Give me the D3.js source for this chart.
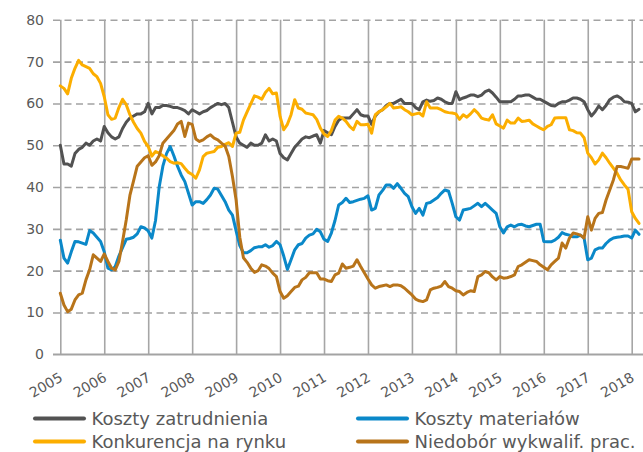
<!DOCTYPE html>
<html>
<head>
<meta charset="utf-8">
<script src="https://cdn.jsdelivr.net/npm/d3@7/dist/d3.min.js"></script>
<style>
  html, body { margin: 0; padding: 0; background: #ffffff; }
  svg { display: block; }
  text { font-family: "DejaVu Sans", Verdana, sans-serif; fill: #595959; }
</style>
</head>
<body>
<svg id="chart" width="643" height="452"></svg>
<script>
// ---- Data (monthly, Jan 2005 – Mar 2018) ----
const startYear = 2005;
const yearLabels = ["2005","2006","2007","2008","2009","2010","2011","2012","2013","2014","2015","2016","2017","2018"];
const yTicks = [0, 10, 20, 30, 40, 50, 60, 70, 80];
const seriesNames = ["Koszty zatrudnienia", "Koszty materiałów", "Konkurencja na rynku", "Niedobór wykwalif. prac."];

const kosztyZatrudnienia = [
  50, 45.5, 45.5, 45, 48, 49, 49.5, 50.5, 50, 51, 51.5, 51,
  54.5, 53, 52, 51.5, 52, 54, 55.5, 56.5, 57, 57.5, 57.5, 58,
  60, 57.5, 59, 59, 59.5, 59.5, 59.3, 59, 59, 58.7, 58.3, 57.5,
  58.5, 58, 57.5, 58, 58.3, 59, 59.5, 60, 59.7, 60, 59, 55.5,
  52, 50.5, 50, 49.5, 50.5, 50, 50, 50.5, 52.5, 51, 51.5, 51,
  48, 47, 46.5, 48, 49.5, 50.5, 51.5, 52, 51.8, 52.2, 52.5, 50.5,
  53.5, 53, 52.5, 54.5, 56, 56.5, 56.5, 56.5, 57.5, 58.5, 57.3, 57,
  57, 55, 57, 58, 58.5, 59.5, 60, 60, 60.5, 61, 60, 60,
  60, 59, 58.5, 60.4, 60.8, 60.5, 60.7, 61.3, 61, 60.4, 60, 60,
  62.8, 60.9, 61.3, 61.6, 62, 62, 61.6, 62, 62.8, 63.2, 62.5, 61.5,
  60.4, 60.4, 60.4, 60.4, 61, 61.8, 61.8, 62, 62, 61.5, 61, 61,
  60.5, 60, 59.5, 59.4, 60, 60.4, 60.4, 60.8, 61.3, 61.3, 61, 60.4,
  58.5, 57, 58, 59.4, 58.5, 59.5, 60.9, 61.5, 61.8, 61.3, 60.4, 60.3,
  60, 58, 58.6
];
const kosztyMaterialow = [
  27.3, 23, 21.8, 24.5, 27, 26.9, 26.6, 26.3, 29.6, 29, 28, 27,
  24.5, 20.6, 20.2, 21, 23.5, 25.5, 27.5, 27.7, 28, 28.8, 30.5, 30.2,
  29.5, 27.8, 32, 40, 45, 48, 49.7, 47.5, 45, 42.9, 41.3, 38.5,
  35.7, 36.5, 36.5, 36.1, 37, 38.1, 39.7, 39.5, 38, 36.5, 34.5, 33.3,
  29.5, 26, 24.3, 24.3, 24.8, 25.5, 25.7, 25.7, 26.2, 25.6, 26, 27,
  26.2, 23.5, 20.3, 22.6, 25, 26.2, 26.5, 27.8, 28.5, 28.8, 29.9, 29.3,
  27.5, 27, 29, 32, 35.7, 36.3, 37.3, 36.3, 36.5, 36.8, 37.1, 37.3,
  37.9, 34.5, 34.9, 38.1, 39.2, 40.5, 40.5, 39.7, 40.8, 39.7, 38.5, 37.7,
  35.3, 33.7, 34.9, 33.3, 36.1, 36.3, 36.9, 37.5, 38.5, 39.3, 39, 36.1,
  32.9, 32.1, 34.5, 34.7, 34.9, 35.5, 36.1, 35.3, 36.1, 35.3, 34.5, 33.7,
  30.5, 29, 30.5, 30.9, 30.5, 31, 31.1, 30.7, 30.5, 30.8, 31.1, 31.1,
  27, 26.9, 26.9, 27.3, 28, 29.1, 28.7, 28.5, 28.1, 28.1, 28.5, 27.8,
  22.6, 23, 25, 25.4, 25.4, 26.5, 27.3, 27.8, 28, 28.1, 28.3, 28.3,
  27.8, 29.7, 28.7
];
const konkurencjaNaRynku = [
  64.2, 63.6, 62.3, 66, 68.4, 70.3, 69.2, 68.8, 68.4, 67.1, 66.4, 64.8,
  61.6, 57.3, 56.2, 56.5, 59, 61, 59.7, 57.3, 55.5, 54, 52.9, 50.9,
  49.7, 47.4, 48.5, 48.1, 47.5, 46.9, 46.1, 45.7, 45.8, 45.6, 44.5, 43.5,
  43, 42.1, 44.1, 47.3, 48.1, 48.3, 48.5, 49.5, 49.7, 50.2, 50.6, 49.7,
  52.9, 53.1, 56, 58, 59.9, 61.8, 61.5, 61, 62.6, 63.6, 62.3, 62.5,
  56.9, 53.7, 55, 57.3, 60.9, 58.9, 58.6, 57.7, 57.5, 57.3, 56.2, 54.1,
  52.7, 52.1, 53.5, 56, 56.9, 56.5, 55.7, 54.5, 53.7, 55.7, 54.9, 54.9,
  55, 52.9, 57.3, 58, 58.5, 59.2, 60, 58.9, 59, 59.2, 58.5, 58,
  57.3, 57.5, 57.7, 57, 60.4, 58.9, 58.9, 58.9, 58.5, 58, 57.8, 57.7,
  57.5, 56.2, 57.3, 56.7, 57.5, 58.5, 57.7, 56.5, 56.2, 56, 57.3, 55.1,
  54.6, 54.1, 56, 55.3, 55.3, 56.5, 55.7, 55.8, 56, 55.1, 54.6, 54.1,
  53.7, 54.5, 54.9, 56.5, 56.6, 56.6, 56.6, 53.7, 53.5, 53, 52.9, 51.8,
  48.1, 47, 45.5, 46.5, 48.1, 47, 45.7, 44.5, 43.3, 41.7, 40.5, 39.5,
  34.1, 32.5, 31.3
];
const niedoborPracownikow = [
  14.6, 11.8, 10.2, 10.8, 13, 14.2, 14.6, 17.8, 20.2, 23.8, 23, 22.2,
  24, 22.2, 20.6, 20.2, 22.2, 27, 32.1, 38, 41.5, 45, 46, 47,
  47.5, 45.2, 46, 47.5, 50.5, 51.5, 52.5, 53.5, 55.1, 55.7, 52.1, 55.3,
  55, 51.5, 50.9, 51.3, 52, 52.5, 51.7, 51.3, 50.5, 49.8, 47.3, 42.5,
  36.9, 28, 23.1, 22, 20.6, 19.6, 20, 21.4, 21.1, 20.5, 19.4, 18.6,
  15, 13.4, 14, 15, 16, 16.3, 17.8, 18.4, 19.5, 19.5, 19.5, 18,
  18, 17.6, 17.4, 19, 19.4, 21.6, 20.6, 20.8, 21.1, 22.6, 21, 19.5,
  18, 16.6, 15.8, 16.2, 16.4, 16.6, 16.2, 16.6, 16.6, 16.4, 15.8, 15,
  14.2, 13.2, 12.8, 12.6, 13, 15.4, 15.8, 16, 16.3, 17.4, 16.2, 15.8,
  15.2, 15, 14.2, 14.8, 15.2, 15, 18.6, 19, 19.8, 19.5, 18.5, 17.8,
  18.6, 18.2, 18.3, 18.6, 19, 21, 21.4, 22, 22.6, 22.4, 22.2, 21.4,
  20.8, 20.2, 21.4, 22.2, 23, 26.6, 25.4, 27.8, 29, 28.8, 28.5, 27.8,
  32.9, 29.7, 32.5, 33.7, 33.9, 36.9, 39.3, 41.7, 44.9, 44.9, 44.7, 44.5,
  46.7, 46.7, 46.7
];

const seriesValues = [kosztyZatrudnienia, kosztyMaterialow, konkurencjaNaRynku, niedoborPracownikow];
const seriesColors = ["#525252", "#0a88c9", "#fcae00", "#b8741a"];

// ---- Layout ----
const W = 643, H = 452;
const svg = d3.select("#chart");
svg.append("rect").attr("width", W).attr("height", H).attr("fill", "#fff");

const x = d3.scaleLinear().domain([2005, 2018]).range([60.3, 631.7]);
const y = d3.scaleLinear().domain([0, 80]).range([354.3, 19.8]);
const gridLeft = 53;

// Horizontal gridlines + y labels
const yAxis = svg.append("g")
  .attr("transform", `translate(${gridLeft},0)`)
  .call(d3.axisLeft(y).tickValues(yTicks).tickSize(-(W - gridLeft)).tickPadding(9).tickFormat(d3.format("d")));
yAxis.select(".domain").remove();
yAxis.selectAll(".tick line")
  .attr("stroke", "#a3a3a3")
  .attr("stroke-width", 1.6)
  .attr("stroke-dasharray", d => d === 0 ? null : "7,4.5");
yAxis.selectAll(".tick text")
  .attr("font-size", 14)
  .attr("fill", "#595959")
  .style("font-family", "'DejaVu Sans', Verdana, sans-serif");

// Vertical gridlines + x labels
const xAxis = svg.append("g")
  .attr("transform", `translate(0,${y(0)})`)
  .call(d3.axisBottom(x).tickValues(yearLabels.map(Number)).tickSize(-(y(0) - y(80))).tickFormat(d => String(d)));
xAxis.select(".domain").remove();
xAxis.selectAll(".tick line")
  .attr("stroke", "#a6a6a6")
  .attr("stroke-width", 1.6);
xAxis.selectAll(".tick text")
  .attr("font-size", 14)
  .attr("fill", "#595959")
  .style("font-family", "'DejaVu Sans', Verdana, sans-serif")
  .attr("text-anchor", "end")
  .attr("dy", null)
  .attr("y", null)
  .attr("transform", "translate(3,26) rotate(-30)");

// Baseline (0) solid on top of vertical grid
svg.append("line")
  .attr("x1", gridLeft).attr("x2", W)
  .attr("y1", y(0)).attr("y2", y(0))
  .attr("stroke", "#a3a3a3").attr("stroke-width", 1.6);

// Series lines
const line = d3.line()
  .x((d, i) => x(startYear + i / 12))
  .y(d => y(d))
  .curve(d3.curveLinear);

svg.append("g").selectAll("path")
  .data(seriesValues)
  .join("path")
  .attr("d", line)
  .attr("fill", "none")
  .attr("stroke", (d, i) => seriesColors[i])
  .attr("stroke-width", 3)
  .attr("stroke-linejoin", "round")
  .attr("stroke-linecap", "round");

// Legend
const legendPos = [
  {lx: 35, ly: 418.5},
  {lx: 358, ly: 418.5},
  {lx: 35, ly: 441.5},
  {lx: 358, ly: 441.5}
];
const legend = svg.append("g").selectAll("g")
  .data(seriesNames)
  .join("g")
  .attr("transform", (d, i) => `translate(${legendPos[i].lx},${legendPos[i].ly})`);
legend.append("line")
  .attr("x1", 0).attr("x2", 49)
  .attr("y1", 0).attr("y2", 0)
  .attr("stroke", (d, i) => seriesColors[i])
  .attr("stroke-width", 4)
  .attr("stroke-linecap", "round");
legend.append("text")
  .attr("x", 56.5)
  .attr("y", 6)
  .attr("font-size", 18)
  .attr("fill", "#595959")
  .text(d => d);
</script>
</body>
</html>
